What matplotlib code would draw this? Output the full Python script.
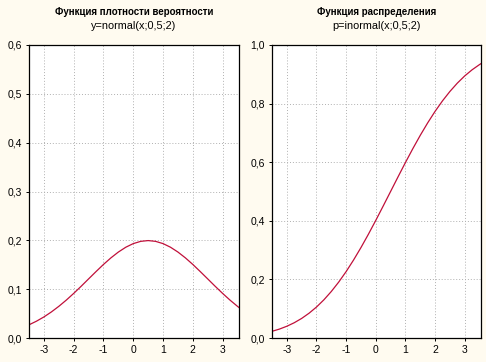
import matplotlib
matplotlib.use("Agg")
import matplotlib.pyplot as plt
from matplotlib.ticker import FuncFormatter

# values
x = [-3.5, -3.25, -3.0, -2.75, -2.5, -2.25, -2.0, -1.75, -1.5, -1.25, -1.0, -0.75,
     -0.5, -0.25, 0.0, 0.25, 0.5, 0.75, 1.0, 1.25, 1.5, 1.75, 2.0, 2.25, 2.5,
     2.75, 3.0, 3.25, 3.5, 3.55]
pdf = [0.0270, 0.0344, 0.0431, 0.0533, 0.0648, 0.0775, 0.0913, 0.1059, 0.1210,
       0.1360, 0.1506, 0.1641, 0.1760, 0.1859, 0.1933, 0.1979, 0.1995, 0.1979,
       0.1933, 0.1859, 0.1760, 0.1641, 0.1506, 0.1360, 0.1210, 0.1059, 0.0913,
       0.0775, 0.0648, 0.0624]
cdf = [0.0228, 0.0304, 0.0401, 0.0521, 0.0668, 0.0846, 0.1056, 0.1303, 0.1587,
       0.1908, 0.2266, 0.2660, 0.3085, 0.3538, 0.4013, 0.4503, 0.5000, 0.5497,
       0.5987, 0.6462, 0.6915, 0.7340, 0.7734, 0.8092, 0.8413, 0.8697, 0.8944,
       0.9154, 0.9332, 0.9364]
xticks = [-3, -2, -1, 0, 1, 2, 3]
pdf_yticks = [0.0, 0.1, 0.2, 0.3, 0.4, 0.5, 0.6]
cdf_yticks = [0.0, 0.2, 0.4, 0.6, 0.8, 1.0]

BG = "#fffbf0"
RED = "#c0103a"
plt.rcParams["font.family"] = ["Liberation Sans", "DejaVu Sans"]
plt.rcParams["axes.unicode_minus"] = False

fig = plt.figure(figsize=(4.86, 3.62), dpi=100, facecolor=BG)
ax1 = fig.add_axes([29 / 486, 24 / 362, 210 / 486, 293 / 362])
ax2 = fig.add_axes([272 / 486, 24 / 362, 209 / 486, 293 / 362])

comma = FuncFormatter(lambda v, p: f"{v:.1f}".replace(".", ","))
panels = [
    (ax1, pdf, pdf_yticks, "Функция плотности вероятности", "y=normal(x;0,5;2)"),
    (ax2, cdf, cdf_yticks, "Функция распределения", "p=inormal(x;0,5;2)"),
]
for ax, ys, yt, t1, t2 in panels:
    ax.set_facecolor("white")
    ax.plot(x, ys, color=RED, lw=0.9)
    ax.set_xlim(-3.5, 3.55)
    ax.set_ylim(yt[0], yt[-1])
    ax.set_xticks(xticks)
    ax.set_yticks(yt)
    ax.yaxis.set_major_formatter(comma)
    ax.grid(True, color="#b0b0b0", ls=(0, (1, 2)), lw=0.7)
    ax.tick_params(length=2, width=0.7, labelsize=7.5, pad=3)
    for s in ax.spines.values():
        s.set_linewidth(0.9)
    x0, x1 = ax.get_position().x0, ax.get_position().x1
    cx = (x0 + x1) / 2
    fig.text(cx, 1 - 12 / 362, t1, ha="center", va="center", fontsize=7, fontweight="bold")
    fig.text(cx, 1 - 26 / 362, t2, ha="center", va="center", fontsize=7.8)

fig.savefig("out.png", dpi=100, facecolor=BG)
